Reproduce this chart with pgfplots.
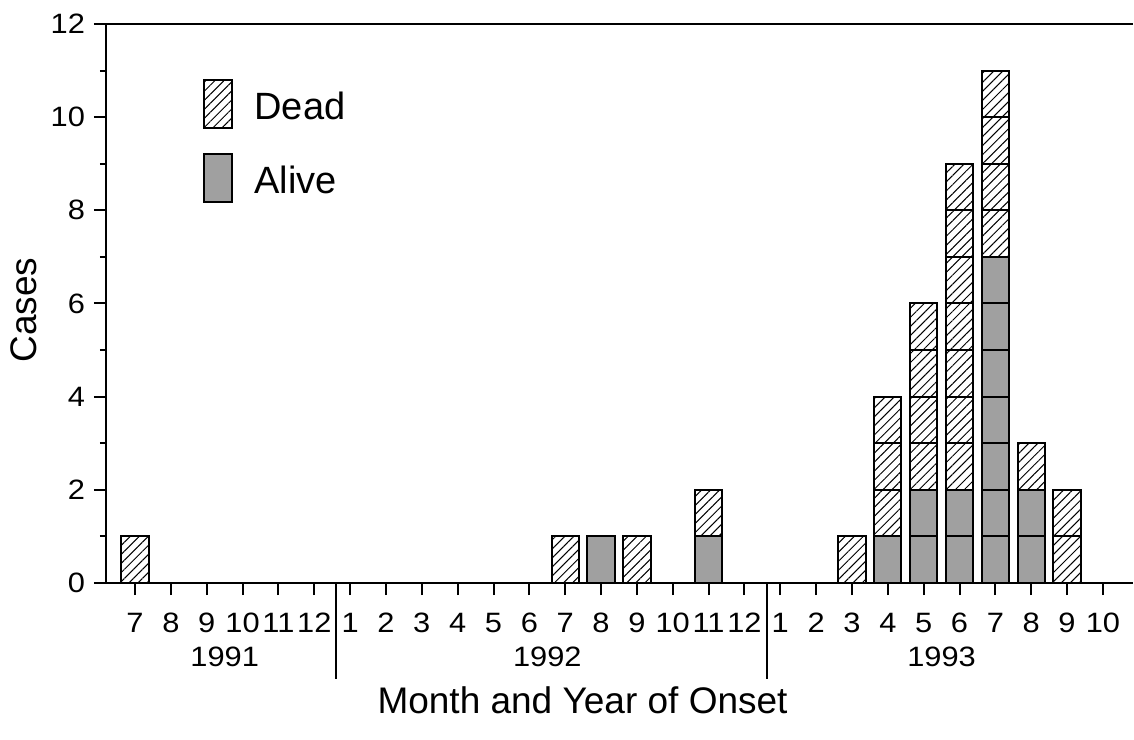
\documentclass[border=0pt]{standalone}
\usepackage{pgfplots}
\pgfplotsset{compat=1.18}
\usepackage{pgfplotstable}
\usetikzlibrary{patterns.meta}
\usepackage{fontspec}
\setmainfont{Liberation Sans}
\newfontfamily\tickfont[FakeStretch=1.1]{Liberation Sans}
\definecolor{alivegray}{RGB}{160,160,160}

% one column per stacked unit box: A = alive, D = dead
\pgfplotstableread{
x A1 A2 A3 A4 A5 A6 A7 D1 D2 D3 D4 D5 D6 D7
0 0 0 0 0 0 0 0 1 0 0 0 0 0 0
12 0 0 0 0 0 0 0 1 0 0 0 0 0 0
13 1 0 0 0 0 0 0 0 0 0 0 0 0 0
14 0 0 0 0 0 0 0 1 0 0 0 0 0 0
16 1 0 0 0 0 0 0 1 0 0 0 0 0 0
20 0 0 0 0 0 0 0 1 0 0 0 0 0 0
21 1 0 0 0 0 0 0 1 1 1 0 0 0 0
22 1 1 0 0 0 0 0 1 1 1 1 0 0 0
23 1 1 0 0 0 0 0 1 1 1 1 1 1 1
24 1 1 1 1 1 1 1 1 1 1 1 0 0 0
25 1 1 0 0 0 0 0 1 0 0 0 0 0 0
26 0 0 0 0 0 0 0 1 1 0 0 0 0 0
}\casedata

\tikzset{
  alive/.style={fill=alivegray, draw=black, line width=1pt},
  dead/.style={pattern={Lines[angle=45,distance=3.2pt,line width=0.5pt]}, draw=black, line width=1pt},
}

\begin{document}
\begin{tikzpicture}
\useasboundingbox (-53pt,-78pt) rectangle (514pt,291.5pt);
\begin{axis}[
  scale only axis, width=513.5pt, height=279.5pt,
  xmin=-0.81, xmax=27.84, ymin=0, ymax=12,
  enlargelimits=false, clip=false,
  ybar stacked, bar width=0.76,
  axis x line=box, axis y line=left,
  axis line style={-, line width=1.1pt, black},
  xtick pos=left, ytick pos=left, tick align=outside,
  major tick length=6pt, minor tick length=3pt,
  tick style={line width=1pt, black},
  xtick={0,...,27},
  xticklabels={7,8,9,10,11,12,1,2,3,4,5,6,7,8,9,10,11,12,1,2,3,4,5,6,7,8,9,10},
  ytick={0,2,...,12}, minor y tick num=1,
  /pgf/number format/assume math mode=true,
  tick label style={font=\tickfont\fontsize{14}{16}\selectfont},
  xticklabel style={yshift=-5.5pt},
  yticklabel style={xshift=-1pt},
  extra x ticks={2.5,11.5,22.5},
  extra x tick labels={1991,1992,1993},
  extra x tick style={major tick length=0pt, tick style={draw=none}, xticklabel style={yshift=-23pt}},
  xlabel={Month and Year of Onset},
  ylabel={Cases},
  every axis x label/.style={at={(axis description cs:0.464,-0.2093)}, anchor=center, font=\fontsize{18.5}{22}\selectfont},
  every axis y label/.style={at={(axis description cs:-0.0798,0.488)}, rotate=90, anchor=center, font=\fontsize{18.5}{22}\selectfont},
  legend style={draw=none, fill=none, at={(axis description cs:0.0945,0.9016)}, anchor=north west,
    inner sep=0pt, row sep=2.5pt, column sep=8.5pt, font=\fontsize{19}{22}\selectfont},
  legend cell align=left,
  reverse legend,
  legend image code/.code={\draw[#1,/tikz/.cd,line width=1pt] (0pt,-5.2pt) rectangle (14pt,18.8pt);},
]
\addplot[alive] table[x=x,y=A1] {\casedata};
\addlegendentry{\raisebox{10.7pt}{Alive}}
\addplot[alive, forget plot] table[x=x,y=A2] {\casedata};
\addplot[alive, forget plot] table[x=x,y=A3] {\casedata};
\addplot[alive, forget plot] table[x=x,y=A4] {\casedata};
\addplot[alive, forget plot] table[x=x,y=A5] {\casedata};
\addplot[alive, forget plot] table[x=x,y=A6] {\casedata};
\addplot[alive, forget plot] table[x=x,y=A7] {\casedata};
\addplot[dead] table[x=x,y=D1] {\casedata};
\addlegendentry{\raisebox{10.7pt}{Dead}}
\addplot[dead, forget plot] table[x=x,y=D2] {\casedata};
\addplot[dead, forget plot] table[x=x,y=D3] {\casedata};
\addplot[dead, forget plot] table[x=x,y=D4] {\casedata};
\addplot[dead, forget plot] table[x=x,y=D5] {\casedata};
\addplot[dead, forget plot] table[x=x,y=D6] {\casedata};
\addplot[dead, forget plot] table[x=x,y=D7] {\casedata};
\draw[line width=0.6pt] (axis cs:5.607,0) -- ([yshift=-48pt]axis cs:5.607,0);
\draw[line width=0.6pt] (axis cs:17.63,0) -- ([yshift=-48pt]axis cs:17.63,0);
\end{axis}
\end{tikzpicture}
\end{document}
